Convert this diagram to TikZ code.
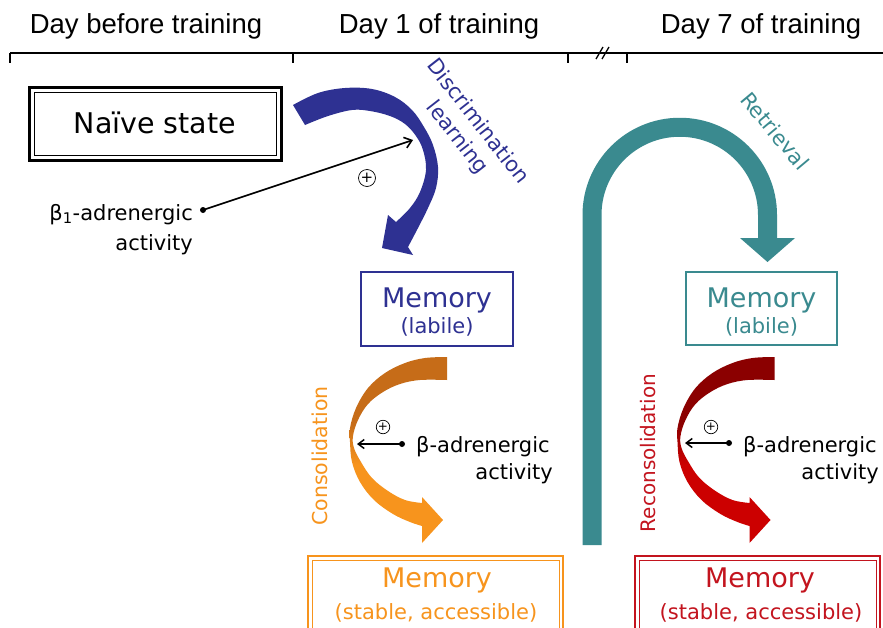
\documentclass[tikz,border=0pt]{standalone}
\usepackage{fontspec}
\setmainfont{DejaVu Sans}
\newfontfamily\headfont{Liberation Sans}
\usetikzlibrary{calc,arrows.meta}
\definecolor{cblue}{RGB}{46,49,146}
\definecolor{cteal}{RGB}{58,138,143}
\definecolor{corange}{RGB}{247,148,29}
\definecolor{corangedark}{RGB}{198,108,24}
\definecolor{cred}{RGB}{195,20,30}
\definecolor{creddark}{RGB}{139,0,0}
\definecolor{credbright}{RGB}{204,0,0}
\pgfdeclareverticalshading{orshade}{100bp}{color(0bp)=(corange); color(46bp)=(corange); color(57bp)=(corangedark); color(100bp)=(corangedark)}
\pgfdeclareverticalshading{redshade}{100bp}{color(0bp)=(credbright); color(46bp)=(credbright); color(57bp)=(creddark); color(100bp)=(creddark)}
\begin{document}
\begin{tikzpicture}[x=1pt,y=-1pt,
  head/.style={font=\headfont\fontsize{27.5}{30}\selectfont, inner sep=0pt, anchor=base},
  big/.style={font=\fontsize{27}{30}\selectfont, inner sep=0pt, anchor=base},
  small/.style={font=\fontsize{21}{24}\selectfont, inner sep=0pt, anchor=base},
  rlabel/.style={font=\fontsize{20.5}{26}\selectfont, inner sep=0pt},
  tl/.style={line width=1.3pt},
  thinarrow/.style={line width=1.6pt, -{Straight Barb[length=7pt,width=11pt]}},
  thinarrowsm/.style={line width=1.5pt, -{Straight Barb[length=6pt,width=9pt]}},
  plus/.style={circle, draw, line width=0.7pt, inner sep=0pt},
  box/.style={draw, outer sep=0pt, inner sep=0pt, line width=2pt}]
\useasboundingbox (0,0) rectangle (883,627);
\clip (0,0) rectangle (883,627);
\fill[white] (0,0) rectangle (883,627);

% headers
\node[head] (h0) at (146,33) {Day before training};
\node[head] (h1) at (439,33) {Day 1 of training};
\node[head] (h7) at (761,33) {Day 7 of training};

% timeline
\coordinate (t0) at (10,53);
\coordinate (tend) at (883,53);
\draw[tl] (t0) -- (tend);
\foreach \x in {10,293,568,627} \draw[tl] (\x,53) -- (\x,63);
\draw[tl] (596,59) -- (603,47);
\draw[tl] (602,59) -- (609,47);

% Naive box
\node[draw, line width=3pt, outer sep=0pt, inner sep=0pt, minimum width=252pt, minimum height=73pt] (naive) at (155,123.5) {};
\draw[line width=1pt] ($(naive.north west)+(5,5)$) rectangle ($(naive.south east)+(-5,-5)$);
\node[font=\fontsize{28.5}{30}\selectfont, inner sep=0pt, anchor=base] (naivet) at (155,133) {Naïve state};

% blue memory box
\node[box, draw=cblue, minimum width=152pt, minimum height=74pt] (mem1) at (437,309) {};
\node[big, text=cblue] (mem1a) at (437,307) {Memory};
\node[small, text=cblue] (mem1b) at (437,333) {(labile)};

% teal memory box
\node[box, draw=cteal, minimum width=151pt, minimum height=73pt] (mem3) at (761.5,308.5) {};
\node[big, text=cteal] (mem3a) at (761.5,307) {Memory};
\node[small, text=cteal] (mem3b) at (761.5,333) {(labile)};

% orange bottom box
\node[box, draw=corange, line width=2.5pt, minimum width=255pt, minimum height=84pt] (mem2) at (435.5,598) {};
\draw[corange, line width=1pt] ($(mem2.north west)+(4,4)$) rectangle ($(mem2.south east)+(-4,-4)$);
\node[big, text=corange] (mem2a) at (437,587) {Memory};
\node[small, text=corange] (mem2b) at (436,619) {(stable, accessible)};

% red bottom box
\node[box, draw=cred, line width=2.5pt, minimum width=245pt, minimum height=84pt] (mem4) at (757.5,598) {};
\draw[cred, line width=1pt] ($(mem4.north west)+(4,4)$) rectangle ($(mem4.south east)+(-4,-4)$);
\node[big, text=cred] (mem4a) at (760,587) {Memory};
\node[small, text=cred] (mem4b) at (761,619) {(stable, accessible)};

% blue discrimination arrow
\fill[cblue] plot[smooth, tension=0.6] coordinates {(293,105) (318,93) (345,88) (372,89) (395,97) (412,110) (424,127) (433,145) (438,167) (436,188) (428,208) (418,228) (408,247)}
  -- (413,255) -- (382,248) -- (388,215)
  -- plot[smooth, tension=0.6] coordinates {(396,222) (410,208) (420,192) (426,170) (423,150) (416,136) (405,124) (390,116) (370,111) (352,110) (328,116) (305,125)} -- cycle;
\node[rlabel, font=\fontsize{21}{26}\selectfont, text=cblue, align=center, rotate=-52] (dl) at (467,130) {Discrimination\\learning};

% beta1 arrow
\coordinate (b1dot) at (203,210);
\coordinate (b1tip) at (413,140);
\fill (b1dot) circle (3);
\draw[thinarrow] (b1dot) -- (b1tip);
\node[plus, minimum size=17pt, font=\fontsize{15}{15}\selectfont] (p1) at (367,178) {+};
\node[small, anchor=base east] (b1a) at (193,220) {β\textsubscript{1}-adrenergic};
\node[small, anchor=base east] (b1b) at (193,250) {activity};

% teal retrieval arrow
\draw[cteal, line width=19pt] (592,545) -- (592,215) arc[start angle=180, end angle=360, radius=87.75] -- (767.5,239);
\fill[cteal] (740,238) -- (795,238) -- (767.5,262) -- cycle;
\node[rlabel, font=\fontsize{21}{26}\selectfont, text=cteal, rotate=-50] (rl) at (775,131) {Retrieval};

% orange consolidation arrow
\shade[shading=orshade] plot[smooth, tension=0.6] coordinates {(447,357) (425,358) (405,363) (385,373) (368,388) (356,408) (350,428) (350,442) (352,462) (360,482) (374,500) (393,514) (410,522) (422,526)}
  -- (422,543) -- (443,520) -- (422,497)
  -- plot[smooth, tension=0.6] coordinates {(422,503) (405,500) (388,491) (372,478) (361,462) (354,448) (353,436) (358,420) (368,404) (383,392) (400,384) (420,380) (447,380)} -- cycle;
\node[rlabel, text=corange, rotate=90] (cl) at (320,456) {Consolidation};
\coordinate (odot) at (402,444);
\coordinate (otip) at (357,444);
\fill (odot) circle (3);
\draw[thinarrowsm] (odot) -- (otip);
\node[plus, minimum size=13.5pt, font=\fontsize{12}{12}\selectfont] (p2) at (383,427) {+};
\node[small, anchor=base west] (ob1) at (416,452) {β-adrenergic};
\node[small, anchor=base east] (ob2) at (553,479) {activity};

% red reconsolidation arrow
\begin{scope}[xshift=327.5pt]
\shade[shading=redshade] plot[smooth, tension=0.6] coordinates {(447,357) (425,358) (405,363) (385,373) (368,388) (356,408) (350,428) (350,442) (352,462) (360,482) (374,500) (393,514) (410,522) (422,526)}
  -- (422,543) -- (443,520) -- (422,497)
  -- plot[smooth, tension=0.6] coordinates {(422,503) (405,500) (388,491) (372,478) (361,462) (354,448) (353,436) (358,420) (368,404) (383,392) (400,384) (420,380) (447,380)} -- cycle;
\end{scope}
\node[rlabel, font=\fontsize{20}{26}\selectfont, text=cred, rotate=90] (rcl) at (648,453) {Reconsolidation};
\coordinate (rdot) at (729,443);
\coordinate (rtip) at (685,443);
\fill (rdot) circle (3);
\draw[thinarrowsm] (rdot) -- (rtip);
\node[plus, minimum size=13.5pt, font=\fontsize{12}{12}\selectfont] (p3) at (711,427) {+};
\node[small, anchor=base west] (rb1) at (743,452) {β-adrenergic};
\node[small, anchor=base east] (rb2) at (879,479) {activity};
\end{tikzpicture}
\end{document}
